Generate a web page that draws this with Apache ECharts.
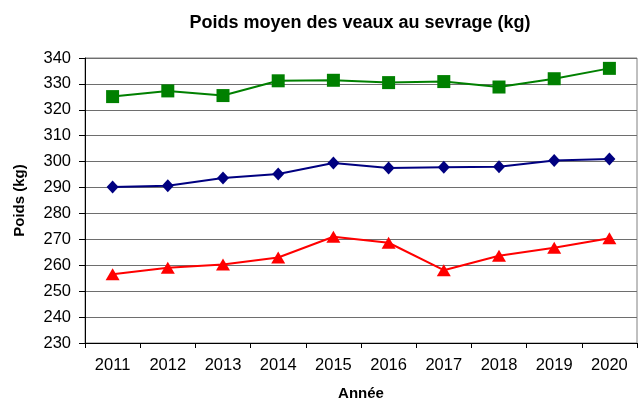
<!DOCTYPE html>
<html>
<head>
<meta charset="utf-8">
<script src="https://cdn.jsdelivr.net/npm/echarts@6/dist/echarts.min.js"></script>
<style>
  html, body { margin: 0; padding: 0; background: #fff; }
  #chart { width: 642px; height: 403px; }
</style>
</head>
<body>
<div id="chart"></div>
<script>
// données
const annees = ['2011', '2012', '2013', '2014', '2015', '2016', '2017', '2018', '2019', '2020'];
const serieVerte = [325.1, 327.3, 325.5, 331.2, 331.4, 330.5, 330.9, 328.8, 332.0, 336.0];
const serieBleue = [290.2, 290.7, 293.7, 295.2, 299.5, 297.5, 297.8, 298.0, 300.4, 301.0];
const serieRouge = [256.5, 259.0, 260.3, 263.0, 271.0, 268.7, 258.1, 263.7, 266.8, 270.4];

const font = 'Liberation Sans, Arial, sans-serif';
const chart = echarts.init(document.getElementById('chart'));

const ligne = (data, color, symbol, size) => ({
  type: 'line',
  data: data,
  symbol: symbol,
  symbolSize: size,
  showAllSymbol: true,
  lineStyle: { color: color, width: 2 },
  itemStyle: { color: color },
  animation: false
});

chart.setOption({
  animation: false,
  title: {
    text: 'Poids moyen des veaux au sevrage (kg)',
    left: 355,
    top: 9,
    textAlign: 'center',
    textStyle: { fontFamily: font, fontSize: 18, fontWeight: 'bold', color: '#000' }
  },
  grid: {
    left: 85, right: 5, top: 58, bottom: 60,
    containLabel: false,
    outerBoundsMode: 'none',
    show: true, borderColor: '#808080', borderWidth: 1
  },
  xAxis: {
    type: 'category',
    data: annees,
    boundaryGap: true,
    name: 'Année',
    nameLocation: 'middle',
    nameGap: 43,
    nameTextStyle: { fontFamily: font, fontSize: 15, fontWeight: 'bold', color: '#000' },
    axisLine: { lineStyle: { color: '#000', width: 1 } },
    axisTick: { show: true, inside: false, length: 5, alignWithLabel: false, lineStyle: { color: '#000' } },
    axisLabel: { fontFamily: font, fontSize: 16.5, color: '#000', margin: 14 },
    splitLine: { show: false }
  },
  yAxis: {
    type: 'value',
    min: 230,
    max: 340,
    interval: 10,
    name: 'Poids (kg)',
    nameLocation: 'middle',
    nameGap: 58,
    nameTextStyle: { fontFamily: font, fontSize: 15, fontWeight: 'bold', color: '#000' },
    axisLine: { show: true, lineStyle: { color: '#000', width: 1 } },
    axisTick: { show: true, length: 6, lineStyle: { color: '#000' } },
    axisLabel: { fontFamily: font, fontSize: 16.5, color: '#000', margin: 14 },
    splitLine: { show: true, lineStyle: { color: '#6e6e6e', width: 1 } }
  },
  series: [
    ligne(serieVerte, '#008000', 'rect', 13),
    ligne(serieBleue, '#000080', 'diamond', [12, 13]),
    ligne(serieRouge, '#ff0000', 'triangle', [14, 12])
  ]
});
</script>
</body>
</html>
